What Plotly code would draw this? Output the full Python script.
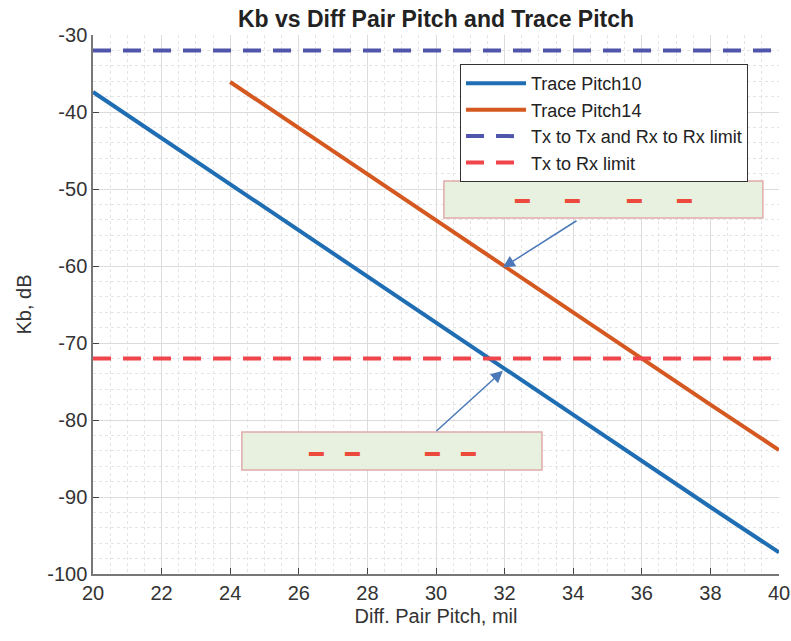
import plotly.graph_objects as go

pitch_x = [20, 22, 24, 26, 28, 30, 32, 34, 36, 38, 40]
kb_trace10 = [-37.4, -43.4, -49.4, -55.4, -61.4, -67.4, -73.4, -79.4, -85.4, -91.3, -97.2]
pitch_x14 = [24, 26, 28, 30, 32, 34, 36, 38, 40]
kb_trace14 = [-36.1, -42.1, -48.1, -54.0, -60.0, -66.0, -72.0, -78.0, -83.9]
limit_x = [20, 40]
txtx_limit = [-32, -32]
txrx_limit = [-72, -72]
x_ticks = [20, 22, 24, 26, 28, 30, 32, 34, 36, 38, 40]
y_ticks = [-100, -90, -80, -70, -60, -50, -40, -30]

FONT = "Liberation Sans, Arial, sans-serif"

fig = go.Figure()
fig.add_trace(go.Scatter(x=pitch_x, y=kb_trace10, mode="lines", name="Trace Pitch10",
                         line=dict(color="#1f6db3", width=4)))
fig.add_trace(go.Scatter(x=pitch_x14, y=kb_trace14, mode="lines", name="Trace Pitch14",
                         line=dict(color="#d4581f", width=4)))
fig.add_trace(go.Scatter(x=limit_x, y=txtx_limit, mode="lines", name="Tx to Tx and Rx to Rx limit",
                         line=dict(color="#4f55aa", width=4, dash="18px,12px")))
fig.add_trace(go.Scatter(x=limit_x, y=txrx_limit, mode="lines", name="Tx to Rx limit",
                         line=dict(color="#f0454b", width=4, dash="18px,12px")))

# annotation boxes
boxes = [(30.23, 39.53, -48.96, -53.77), (24.34, 33.09, -81.56, -86.5)]
for x0, x1, y0, y1 in boxes:
    fig.add_shape(type="rect", x0=x0, x1=x1, y0=y0, y1=y1, xref="x", yref="y",
                  fillcolor="#e8f1df", line=dict(color="#e0abab", width=1.5), layer="above")

dash_marks = [(32.51, -51.5), (33.97, -51.5), (35.77, -51.5), (37.23, -51.5),
              (26.50, -84.4), (27.55, -84.4), (29.88, -84.4), (30.93, -84.4)]
for dx, dy in dash_marks:
    fig.add_annotation(x=dx, y=dy, xref="x", yref="y", text="━", showarrow=False,
                       font=dict(color="#ec4a3c", size=24, family="DejaVu Sans Mono"))

# arrows
arrows = [((34.14, -54.0), (31.95, -60.2)), ((29.97, -81.6), (31.95, -73.6))]
for (tx, ty), (hx, hy) in arrows:
    fig.add_annotation(x=hx, y=hy, ax=tx, ay=ty, xref="x", yref="y", axref="x", ayref="y",
                       text="", showarrow=True, arrowhead=2, arrowsize=1.6, arrowwidth=1.5,
                       arrowcolor="#4a78b8")

grid_major = "#dcdcdc"
grid_minor = "#e4e4e4"
fig.update_xaxes(range=[20, 40], tickmode="array", tickvals=x_ticks, ticktext=[str(v) for v in x_ticks],
                 ticks="inside", ticklen=6, tickcolor="#444", showline=True, linecolor="#777",
                 linewidth=1.5, showgrid=True, gridcolor=grid_major, gridwidth=1, zeroline=False,
                 automargin=False,
                 minor=dict(dtick=0.5, showgrid=True, gridcolor=grid_minor, griddash="dot", ticks=""),
                 title=dict(text="Diff. Pair Pitch, mil", font=dict(size=20, color="#333", family=FONT), standoff=6),
                 tickfont=dict(size=20, color="#333", family=FONT))
fig.update_yaxes(range=[-100, -30], tickmode="array", tickvals=y_ticks, ticktext=[str(v) for v in y_ticks],
                 ticks="inside", ticklen=6, tickcolor="#444", showline=True, linecolor="#777",
                 linewidth=1.5, showgrid=True, gridcolor=grid_major, gridwidth=1, zeroline=False,
                 automargin=False,
                 minor=dict(dtick=2, showgrid=True, gridcolor=grid_minor, griddash="dot", ticks=""),
                 title=dict(text="Kb, dB", font=dict(size=20, color="#333", family=FONT), standoff=10),
                 tickfont=dict(size=20, color="#333", family=FONT))

fig.update_layout(
    width=791, height=641,
    margin=dict(l=93, r=12, t=35, b=67),
    paper_bgcolor="white", plot_bgcolor="white",
    title=dict(text="<b>Kb vs Diff Pair Pitch and Trace Pitch</b>", x=0.5, xanchor="center",
               xref="paper", y=1 - 19 / 641, yanchor="middle",
               font=dict(size=23, color="#222", family=FONT)),
    legend=dict(x=0.535, y=0.946, xanchor="left", yanchor="top", bgcolor="white",
                bordercolor="#333", borderwidth=1, font=dict(size=18, color="#222", family=FONT),
                tracegroupgap=0, itemwidth=60),
    showlegend=True,
)

fig.write_html("out.html", config={"displayModeBar": False},
               post_script="document.body.style.margin='0px';document.body.style.overflow='hidden';")
